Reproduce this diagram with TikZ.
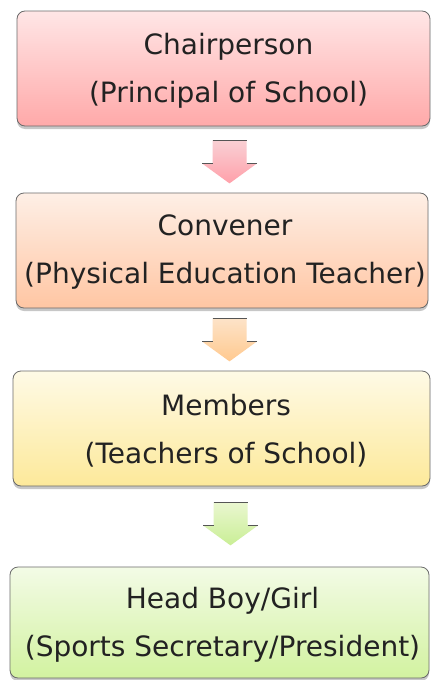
\documentclass[tikz,border=0pt]{standalone}
\usepackage{fontspec}
\setmainfont{DejaVu Sans}
\usetikzlibrary{shadows}
\definecolor{boxline}{HTML}{6B6B6B}
\definecolor{textcol}{HTML}{222222}
\definecolor{rtop}{HTML}{FFE6E6}
\definecolor{rbot}{HTML}{FFA9A9}
\definecolor{otop}{HTML}{FEEFE6}
\definecolor{obot}{HTML}{FFC6A3}
\definecolor{ytop}{HTML}{FEFAE6}
\definecolor{ybot}{HTML}{FDE99A}
\definecolor{gtop}{HTML}{F3FBE6}
\definecolor{gbot}{HTML}{D2F2A0}
\definecolor{arline}{HTML}{555555}
\definecolor{a1top}{HTML}{F9D0D4}
\definecolor{a1bot}{HTML}{FFA0AA}
\definecolor{a2top}{HTML}{FDE3C8}
\definecolor{a2bot}{HTML}{FFC98F}
\definecolor{a3top}{HTML}{EAF7D0}
\definecolor{a3bot}{HTML}{C9EE95}
\begin{document}
\begin{tikzpicture}[x=1pt,y=1pt,
  box/.style={draw=boxline, line width=0.8pt, rounded corners=8pt, inner sep=0pt,
    drop shadow={shadow xshift=0pt, shadow yshift=-3pt, opacity=0.22, fill=black}},
  boxtext/.style={inner sep=0pt, align=center, font=\fontsize{28pt}{48pt}\selectfont, text=textcol},
  blockarrow/.style={shade, top color=#1top, bottom color=#1bot},
  arrowedge/.style={draw=arline, line width=1pt}
]
\useasboundingbox (0,0) rectangle (431,-680);
\fill[white] (0,0) rectangle (431,-680);

\node[box, minimum width=413pt, minimum height=115pt, top color=rtop, bottom color=rbot]
  (chair) at (223.5,-68.5) {};
\node[boxtext] (chairtxt) at ([xshift=5pt,yshift=-2pt]chair.center) {Chairperson\\(Principal of School)};
\node[box, minimum width=412pt, minimum height=115pt, top color=otop, bottom color=obot]
  (conv) at (222,-250.5) {};
\node[boxtext] (convtxt) at ([xshift=3pt,yshift=-2pt]conv.center) {Convener\\(Physical Education Teacher)};
\node[box, minimum width=417pt, minimum height=115pt, top color=ytop, bottom color=ybot]
  (memb) at (221.5,-428.5) {};
\node[boxtext] (membtxt) at ([xshift=4.5pt,yshift=-2pt]memb.center) {Members\\(Teachers of School)};
\node[box, minimum width=419pt, minimum height=111pt, top color=gtop, bottom color=gbot]
  (head) at (219.5,-622.5) {};
\node[boxtext] (headtxt) at ([xshift=3pt,yshift=-2pt]head.center) {Head Boy/Girl\\(Sports Secretary/President)};

\coordinate (a1) at ([xshift=6pt,yshift=-14pt]chair.south);
\coordinate (a2) at ([xshift=7.5pt,yshift=-10pt]conv.south);
\coordinate (a3) at ([xshift=9pt,yshift=-16pt]memb.south);

\foreach \a/\c in {a1/a1, a2/a2, a3/a3}{
  \path[blockarrow=\c] (\a) ++(-17,0) -- ++(34,0) -- ++(0,-23) -- ++(10.5,0)
     -- ++(-27.5,-20) -- ++(-27.5,20) -- ++(10.5,0) -- cycle;
  \draw[arrowedge] (\a) ++(-17,0) -- ++(34,0);
  \draw[arrowedge] (\a) ++(17,-23) -- ++(10.5,0);
  \draw[arrowedge] (\a) ++(-17,-23) -- ++(-10.5,0);
}
\end{tikzpicture}
\end{document}
